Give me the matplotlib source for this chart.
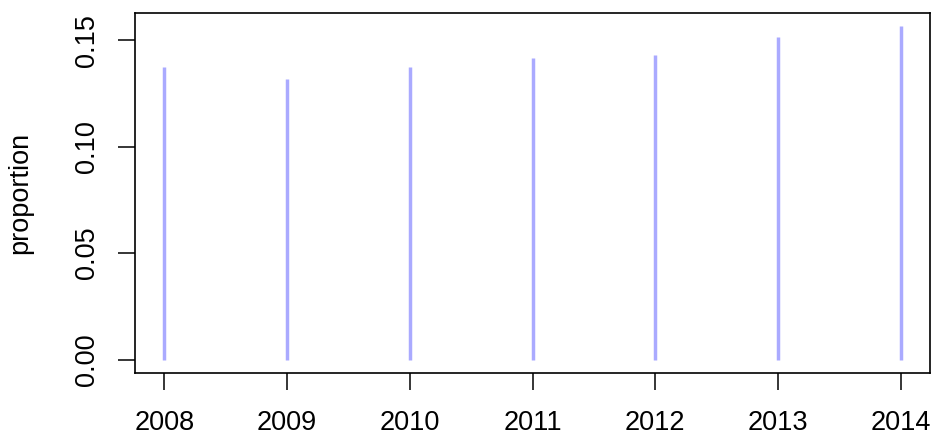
import matplotlib.pyplot as plt

# Yearly proportions
years = [2008, 2009, 2010, 2011, 2012, 2013, 2014]
proportion = [0.1372, 0.1316, 0.1376, 0.1417, 0.1430, 0.1515, 0.1565]
yticks = [0.00, 0.05, 0.10, 0.15]
ytick_labels = ["0.00", "0.05", "0.10", "0.15"]

plt.rcParams["font.family"] = ["Liberation Sans", "DejaVu Sans"]
plt.rcParams["font.size"] = 19.5

fig = plt.figure(figsize=(9.33, 4.37), dpi=100)
ax = fig.add_axes([0.1447, 0.1465, 0.8521, 0.8238])

# histogram-like vertical lines, one per year
ax.vlines(years, 0, proportion, colors="#aaaaff", linewidth=2.5, capstyle="butt")

# 4% padding on both axes
xr = years[-1] - years[0]
ax.set_xlim(years[0] - 0.04 * xr, years[-1] + 0.04 * xr)
ymax = max(proportion)
ax.set_ylim(-0.04 * ymax, ymax * 1.04)

ax.set_xticks(years)
ax.set_xticklabels([str(y) for y in years])
ax.set_yticks(yticks)
ax.set_yticklabels(ytick_labels, rotation=90, va="center")

ax.tick_params(axis="both", direction="out", length=12, width=1.1)
ax.tick_params(axis="x", pad=15)
ax.tick_params(axis="y", pad=13)
for s in ax.spines.values():
    s.set_linewidth(1.2)

ax.set_ylabel("proportion")
ax.yaxis.set_label_coords(-0.128, 0.5)

fig.savefig("out.png", dpi=100)
